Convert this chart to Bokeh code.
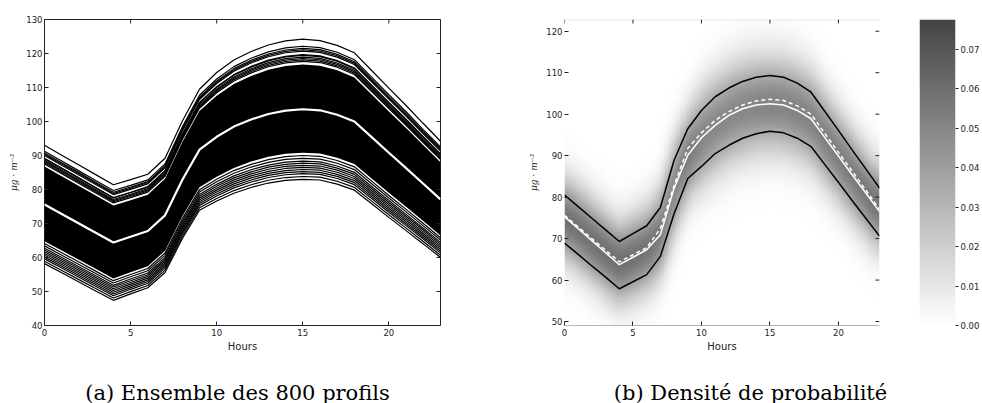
import numpy as np
from bokeh.plotting import figure
from bokeh.layouts import row, column
from bokeh.models import (FixedTicker, LinearColorMapper, Range1d, PrintfTickFormatter)
from bokeh.core.properties import value
from bokeh.embed import file_html
from bokeh.resources import INLINE

# ---------------- data ----------------
hours = list(range(24))

# (a) ensemble: mean profile (white line) and hourly half-width of the ensemble
mean_profile = [75.6, 72.8, 70.0, 67.2, 64.4, 66.1, 67.8, 72.4, 82.8, 91.7, 95.5, 98.5,
                100.6, 102.2, 103.2, 103.6, 103.3, 102.0, 100.0, 95.4, 90.8, 86.3, 81.7, 77.1]
profile_spread = [17.4, 17.3, 17.2, 17.1, 17.0, 16.8, 16.7, 16.8, 17.3, 17.8, 18.9, 19.6,
                  20.0, 20.3, 20.5, 20.6, 20.5, 20.4, 20.2, 19.6, 19.0, 18.4, 17.7, 17.1]
# positions (in units of the half-width) of the individually visible edge profiles
upper_profile_shifts = [1.0, 0.9, 0.87, 0.85, 0.83, 0.78, 0.77, 0.745, 0.725, 0.705, 0.685]
lower_profile_shifts = [-0.66, -0.7, -0.74, -0.77, -0.8, -0.83, -0.86, -0.89, -0.92,
                        -0.96, -1.0]
core_shift_low = -0.62
core_shift_high = 0.64

# (b) density: quantile curves (black), median (white) and mean (white dashed)
q90_profile = [80.5, 77.7, 74.9, 72.1, 69.3, 71.2, 73.1, 77.5, 88.9, 96.5, 100.9, 104.2,
               106.3, 107.9, 108.9, 109.3, 108.9, 107.5, 105.3, 100.7, 96.1, 91.4, 86.8, 82.2]
q10_profile = [68.9, 66.2, 63.4, 60.7, 57.9, 59.6, 61.3, 65.7, 76.0, 84.5, 87.4, 90.5,
               92.5, 94.2, 95.3, 95.9, 95.5, 94.2, 92.2, 87.9, 83.6, 79.2, 74.9, 70.6]
median_profile = [75.3, 72.4, 69.5, 66.6, 63.7, 65.5, 67.3, 70.9, 82.1, 90.1, 94.3, 97.3,
                  99.7, 101.3, 102.2, 102.5, 102.2, 100.9, 98.9, 94.4, 89.9, 85.4, 81.0, 76.5]

x_ticks = [0, 5, 10, 15, 20]
left_y_ticks = [40, 50, 60, 70, 80, 90, 100, 110, 120, 130]
right_y_ticks = [50, 60, 70, 80, 90, 100, 110, 120]
cbar_ticks = [0.0, 0.01, 0.02, 0.03, 0.04, 0.05, 0.06, 0.07]
cbar_max = 0.0775
left_x_range = (0, 23)
left_y_range = (40, 130)
right_y_range = (49.04, 122.83)

captions = ["(a) Ensemble des 800 profils", "(b) Densité de probabilité"]
y_label = "μg · m⁻³"
x_label = "Hours"

# ---------------- styling helpers ----------------
TICK_FONT = "DejaVu Sans"
TICK_SIZE = "8.5px"
TXT = "#222222"
MAIN_H = 370


def style_main_axis(ax, ticks, line_color=None, standoff=2, tick_len=4):
    ax.ticker = FixedTicker(ticks=ticks)
    ax.major_tick_in = tick_len
    ax.major_tick_out = 0
    ax.minor_tick_in = 0
    ax.minor_tick_out = 0
    ax.major_tick_line_color = TXT
    ax.axis_line_color = line_color
    ax.major_label_standoff = standoff
    ax.major_label_text_font = TICK_FONT
    ax.major_label_text_font_size = TICK_SIZE
    ax.major_label_text_color = TXT


def label_axes(p):
    xa, ya = p.xaxis[0], p.yaxis[0]
    xa.axis_label = x_label
    xa.axis_label_text_font = TICK_FONT
    xa.axis_label_text_font_style = "normal"
    xa.axis_label_text_font_size = "10px"
    xa.axis_label_standoff = 2
    xa.axis_label_text_color = TXT
    ya.axis_label = y_label
    ya.axis_label_text_font = "DejaVu Serif"
    ya.axis_label_text_font_style = "italic"
    ya.axis_label_text_font_size = "9px"
    ya.axis_label_standoff = 4
    ya.axis_label_text_color = TXT


def inner_ticks(p, xr, yr, frame_w, frame_h, xt, yt, length=4):
    """tick marks pointing inwards on the top and right edges of the frame"""
    dx = length * (xr[1] - xr[0]) / frame_w
    dy = length * (yr[1] - yr[0]) / frame_h
    p.segment(x0=xt, y0=[yr[1]] * len(xt), x1=xt, y1=[yr[1] - dy] * len(xt),
              line_color=TXT, line_width=1)
    p.segment(x0=[xr[1]] * len(yt), y0=yt, x1=[xr[1] - dx] * len(yt), y1=yt,
              line_color=TXT, line_width=1)


# ---------------- (a) ensemble of profiles ----------------
p1 = figure(width=478, height=MAIN_H, x_range=Range1d(*left_x_range), y_range=Range1d(*left_y_range),
            output_backend="svg", toolbar_location=None,
            min_border_left=44, min_border_right=38, min_border_top=17, min_border_bottom=45)
p1.grid.visible = False
p1.outline_line_color = "#222222"
p1.background_fill_color = "white"
p1.border_fill_color = "white"
style_main_axis(p1.xaxis[0], x_ticks, standoff=3)
style_main_axis(p1.yaxis[0], left_y_ticks)
label_axes(p1)

core_low = [m + core_shift_low * s for m, s in zip(mean_profile, profile_spread)]
core_high = [m + core_shift_high * s for m, s in zip(mean_profile, profile_spread)]
p1.varea(x=hours, y1=core_low, y2=core_high, fill_color="black")

edge_shifts = upper_profile_shifts + lower_profile_shifts
edge_profiles = [[m + z * s for m, s in zip(mean_profile, profile_spread)] for z in edge_shifts]
p1.multi_line(xs=[hours] * len(edge_profiles), ys=edge_profiles, line_color="black", line_width=1.2)
p1.line(hours, mean_profile, line_color="white", line_width=2.2)
inner_ticks(p1, left_x_range, left_y_range, 396, 308, x_ticks, left_y_ticks)

# ---------------- (b) probability density ----------------
y_lo, y_hi = right_y_range
p2 = figure(width=427, height=MAIN_H, x_range=Range1d(0, 23), y_range=Range1d(y_lo, y_hi),
            output_backend="svg", toolbar_location=None,
            min_border_left=86, min_border_right=26, min_border_top=18, min_border_bottom=44)
p2.grid.visible = False
p2.outline_line_color = None
p2.background_fill_color = "white"
p2.border_fill_color = "white"

palette = []
for i in range(256):
    g = int(round(255 - 187 * i / 255))
    palette.append("#%02x%02x%02x" % (g, g, g))
mapper = LinearColorMapper(palette=palette, low=0.0, high=cbar_max)

# density field built from the quantile curves (spread) and the median curve (centre)
nt, nv = 230, 300
t_grid = (np.arange(nt) + 0.5) * 23.0 / nt
v_grid = y_lo + (np.arange(nv) + 0.5) * (y_hi - y_lo) / nv
centre_t = np.interp(t_grid, hours, median_profile)
sigma_h = (np.array(q90_profile) - np.array(q10_profile)) / 2.563 * 1.5
sigma_t = np.interp(t_grid, hours, sigma_h)
dens = np.exp(-0.5 * ((v_grid[:, None] - centre_t[None, :]) / sigma_t[None, :]) ** 2) / (
    sigma_t[None, :] * np.sqrt(2 * np.pi))
kern = np.exp(-0.5 * ((t_grid[:, None] - t_grid[None, :]) / 0.35) ** 2)
kern /= kern.sum(axis=1, keepdims=True)
dens = dens @ kern.T

p2.image(image=[dens], x=0, y=y_lo, dw=23, dh=y_hi - y_lo, color_mapper=mapper)

p2.line(hours, q90_profile, line_color="black", line_width=1.5)
p2.line(hours, q10_profile, line_color="black", line_width=1.5)
p2.line(hours, median_profile, line_color="white", line_width=1.5)
p2.line(hours, mean_profile, line_color="white", line_width=1.5, line_dash="4 3")

style_main_axis(p2.xaxis[0], x_ticks, line_color="#b4b4b4", standoff=3)
style_main_axis(p2.yaxis[0], right_y_ticks)
label_axes(p2)
# light top spine
p2.segment(x0=[0], y0=[y_hi], x1=[23], y1=[y_hi], line_color="#e0e0e0", line_width=1.5)
inner_ticks(p2, (0, 23), right_y_range, 315, 308, x_ticks, right_y_ticks)

# ---------------- colour bar ----------------
p3 = figure(width=77, height=MAIN_H, x_range=Range1d(0, 1), y_range=Range1d(0, cbar_max),
            output_backend="svg", toolbar_location=None,
            x_axis_location=None, y_axis_location="right",
            min_border_left=14, min_border_right=0, min_border_top=19, min_border_bottom=44)
p3.grid.visible = False
p3.outline_line_color = None
p3.background_fill_color = "white"
p3.border_fill_color = "white"
gradient = np.linspace(0.0, cbar_max, 256).reshape(256, 1)
p3.image(image=[gradient], x=0, y=0, dw=1, dh=cbar_max, color_mapper=mapper)
cax = p3.yaxis[0]
cax.ticker = FixedTicker(ticks=cbar_ticks)
cax.formatter = PrintfTickFormatter(format="%.2f")
cax.major_tick_in = 0
cax.major_tick_out = 3
cax.minor_tick_in = 0
cax.minor_tick_out = 0
cax.axis_line_color = None
cax.major_tick_line_color = TXT
cax.major_label_standoff = 2
cax.major_label_text_font = TICK_FONT
cax.major_label_text_font_size = TICK_SIZE
cax.major_label_text_color = TXT

# ---------------- sub-figure captions ----------------
pcap = figure(width=982, height=403 - MAIN_H, x_range=Range1d(0, 982), y_range=Range1d(403, MAIN_H),
              output_backend="svg", toolbar_location=None, x_axis_location=None,
              y_axis_location=None, min_border=0)
pcap.grid.visible = False
pcap.outline_line_color = None
pcap.background_fill_color = "white"
pcap.border_fill_color = "white"
pcap.text(x=[237, 750], y=[392, 392], text=captions, text_font=value("DejaVu Serif"),
          text_font_size="21px", text_align="center", text_baseline="alphabetic",
          text_color="black")

layout = column(row(p1, p2, p3), pcap)
open("out.html", "w").write(file_html(layout, INLINE))
